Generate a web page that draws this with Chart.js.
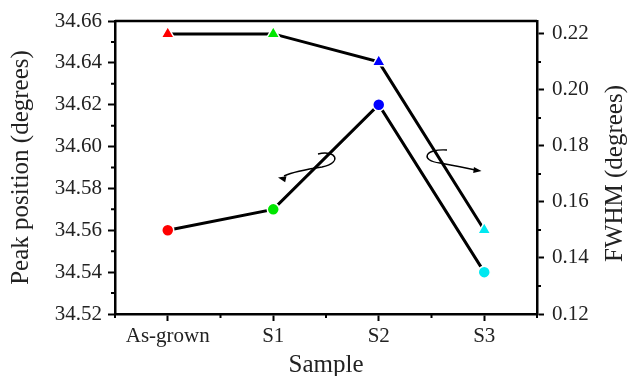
<!DOCTYPE html>
<html>
<head>
<meta charset="utf-8">
<script src="https://cdn.jsdelivr.net/npm/chart.js@4.4.0/dist/chart.umd.min.js"></script>
<style>
  html, body { margin: 0; padding: 0; background: #fff; }
  #wrap { width: 633px; height: 376px; }
</style>
</head>
<body>
<div id="wrap"><canvas id="peak-chart" width="633" height="376"></canvas></div>
<script>
// data
const samples = ['As-grown', 'S1', 'S2', 'S3'];
const peakPosition = [34.56, 34.57, 34.62, 34.54];
const fwhm = [0.22, 0.22, 0.21, 0.15];
const pointColors = ['#ff0000', '#00e600', '#0000ff', '#00e8f0'];
const peakTicks = [34.52, 34.54, 34.56, 34.58, 34.60, 34.62, 34.64, 34.66];
const fwhmTicks = [0.12, 0.14, 0.16, 0.18, 0.20, 0.22];

const serif = '"Liberation Serif", "Times New Roman", serif';
const textColor = '#222';

// Frame, minor ticks, curled arrows and right-hand title
const decorPlugin = {
    id: 'decor',
    afterDatasetsDraw(chart) {
        const ctx = chart.ctx;
        const area = chart.chartArea;
        const x = chart.scales.x;
        const y = chart.scales.y;
        const y1 = chart.scales.y1;

        ctx.save();
        ctx.strokeStyle = '#000';
        ctx.lineWidth = 2.5;
        ctx.beginPath();
        ctx.moveTo(area.left, area.top);
        ctx.lineTo(area.right, area.top);
        ctx.stroke();

        // minor ticks
        ctx.lineWidth = 2;
        ctx.beginPath();
        for (let i = -0.5; i <= samples.length - 0.5; i++) {
            const px = x.getPixelForValue(i);
            ctx.moveTo(px, area.bottom);
            ctx.lineTo(px, area.bottom + 4);
        }
        for (let k = 0; k < peakTicks.length - 1; k++) {
            const py = y.getPixelForValue((peakTicks[k] + peakTicks[k + 1]) / 2);
            ctx.moveTo(area.left, py);
            ctx.lineTo(area.left - 4, py);
        }
        for (let k = 0; k < fwhmTicks.length - 1; k++) {
            const py = y1.getPixelForValue((fwhmTicks[k] + fwhmTicks[k + 1]) / 2);
            ctx.moveTo(area.right, py);
            ctx.lineTo(area.right + 4, py);
        }
        ctx.stroke();

        // curled arrows
        ctx.lineWidth = 1.4;
        const a1x = x.getPixelForValue(1.5), a1y = y.getPixelForValue(34.59);
        ctx.beginPath();
        ctx.moveTo(a1x - 8, a1y - 13.5);
        ctx.bezierCurveTo(a1x + 10, a1y - 18, a1x + 17, a1y - 5, a1x - 4, a1y - 0.5);
        ctx.quadraticCurveTo(a1x - 31, a1y + 3.5, a1x - 42, a1y + 8.5);
        ctx.stroke();
        arrowHead(ctx, a1x - 48, a1y + 10, Math.PI + 0.22);

        const a2x = x.getPixelForValue(2.5), a2y = y.getPixelForValue(34.59);
        ctx.beginPath();
        ctx.moveTo(a2x + 15.5, a2y - 17.5);
        ctx.bezierCurveTo(a2x - 7, a2y - 19, a2x - 12, a2y - 7, a2x + 8.5, a2y - 4.5);
        ctx.quadraticCurveTo(a2x + 30.5, a2y - 0.5, a2x + 44, a2y + 2.5);
        ctx.stroke();
        arrowHead(ctx, a2x + 50, a2y + 3.5, 0.12);

        // right axis title, reading bottom to top
        ctx.fillStyle = textColor;
        ctx.font = '25px ' + serif;
        ctx.textAlign = 'center';
        ctx.textBaseline = 'middle';
        ctx.translate(615, (area.top + area.bottom) / 2 + 6);
        ctx.rotate(-Math.PI / 2);
        ctx.fillText('FWHM (degrees)', 0, 0);
        ctx.restore();
    }
};

function arrowHead(ctx, tipX, tipY, angle) {
    ctx.save();
    ctx.translate(tipX, tipY);
    ctx.rotate(angle);
    ctx.fillStyle = '#000';
    ctx.beginPath();
    ctx.moveTo(0, 0);
    ctx.lineTo(-8, -3);
    ctx.lineTo(-8, 3);
    ctx.closePath();
    ctx.fill();
    ctx.restore();
}

let peakChart = new Chart(document.getElementById('peak-chart').getContext('2d'), {
    type: 'line',
    data: {
        labels: samples,
        datasets: [{
            label: 'Peak position',
            data: peakPosition,
            yAxisID: 'y',
            borderColor: '#000',
            borderWidth: 3,
            pointStyle: 'circle',
            pointRadius: 6,
            pointBackgroundColor: pointColors,
            pointBorderColor: '#fff',
            pointBorderWidth: 1.5
        }, {
            label: 'FWHM',
            data: fwhm,
            yAxisID: 'y1',
            borderColor: '#000',
            borderWidth: 3,
            pointStyle: 'triangle',
            pointRadius: 7.5,
            pointBackgroundColor: pointColors,
            pointBorderColor: '#fff',
            pointBorderWidth: 1.5
        }]
    },
    options: {
        responsive: false,
        animation: false,
        layout: { padding: { top: 21, left: 0, right: 0, bottom: 0 } },
        plugins: {
            legend: { display: false },
            tooltip: { enabled: false }
        },
        scales: {
            x: {
                type: 'category',
                offset: true,
                grid: { offset: false, drawOnChartArea: false, drawTicks: true, tickLength: 7, tickWidth: 2, color: '#000' },
                border: { display: true, width: 2.5, color: '#000' },
                ticks: { color: textColor, font: { family: serif, size: 21 }, padding: 3, maxRotation: 0 },
                title: { display: true, text: 'Sample', color: textColor, font: { family: serif, size: 25 }, padding: { top: 0, bottom: -4 } },
                afterFit(scale) { scale.height = 62; }
            },
            y: {
                position: 'left',
                min: 34.52,
                max: 34.66,
                afterBuildTicks(scale) { scale.ticks = peakTicks.map(v => ({ value: v })); },
                grid: { drawOnChartArea: false, drawTicks: true, tickLength: 7, tickWidth: 2, color: '#000' },
                border: { display: true, width: 2.5, color: '#000' },
                ticks: { color: textColor, font: { family: serif, size: 21 }, padding: 6, callback: v => v.toFixed(2) },
                title: { display: true, text: 'Peak position (degrees)', color: textColor, font: { family: serif, size: 25 }, padding: { top: 6, bottom: 0 } },
                afterFit(scale) { scale.width = 115; }
            },
            y1: {
                position: 'right',
                min: 0.12,
                max: 0.2246,
                afterBuildTicks(scale) { scale.ticks = fwhmTicks.map(v => ({ value: v })); },
                grid: { drawOnChartArea: false, drawTicks: true, tickLength: 7, tickWidth: 2, color: '#000' },
                border: { display: true, width: 2.5, color: '#000' },
                ticks: { color: textColor, font: { family: serif, size: 21 }, padding: 8, callback: v => v.toFixed(2) },
                afterFit(scale) { scale.width = 96; }
            }
        }
    },
    plugins: [decorPlugin]
});
</script>
</body>
</html>
